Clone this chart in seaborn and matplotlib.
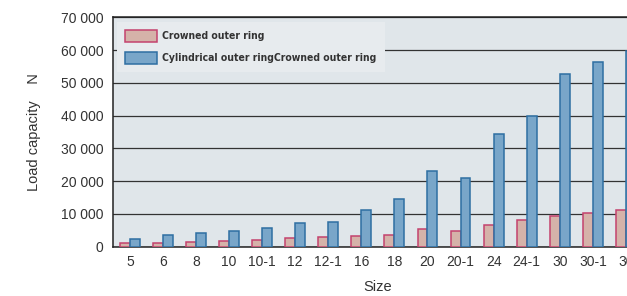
import numpy as np
import pandas as pd
import seaborn as sns
import matplotlib.pyplot as plt
from matplotlib.patches import Patch
from matplotlib.ticker import FuncFormatter, MultipleLocator

sizes = ['5', '6', '8', '10', '10-1', '12', '12-1', '16', '18', '20',
         '20-1', '24', '24-1', '30', '30-1', '30']
crowned = [1000, 1200, 1500, 1800, 2000, 2500, 2800, 3100, 3600, 5200,
           4700, 6600, 8000, 9300, 10100, 11000]
cylindrical = [2200, 3500, 4200, 4800, 5500, 7200, 7500, 11200, 14400, 23200,
               21000, 34400, 39900, 52700, 56200, 59600]
series = ['Crowned outer ring', 'Cylindrical outer ringCrowned outer ring']

df = pd.DataFrame({
    'idx': list(range(len(sizes))) * 2,
    'load': crowned + cylindrical,
    'type': [series[0]] * len(sizes) + [series[1]] * len(sizes),
})

fills = ['#d5b2a9', '#79a6c9']
edges = ['#c4426e', '#2e6fa2']

sns.set_style('white')
plt.rcParams['font.family'] = ['Liberation Sans', 'DejaVu Sans']

fig = plt.figure(figsize=(6.27, 2.96), dpi=100)
ax = fig.add_axes([0.1807, 0.1672, 0.8439, 0.7744])
ax.set_facecolor('#e0e6ea')

sns.barplot(data=df, x='idx', y='load', hue='type', palette=fills,
            width=0.6, saturation=1, linewidth=1.1, legend=False, ax=ax)
for cont, ec in zip(ax.containers, edges):
    for bar in cont:
        bar.set_edgecolor(ec)
        bar.set_zorder(3)

ax.set_xlim(-0.5, len(sizes) - 0.5)
ax.set_ylim(0, 70000)
ax.yaxis.set_major_locator(MultipleLocator(10000))
ax.yaxis.set_major_formatter(FuncFormatter(lambda v, p: f'{int(v):,}'.replace(',', ' ')))
ax.grid(axis='y', color='#333333', linewidth=0.9)
ax.set_axisbelow(True)

ax.set_xticks(range(len(sizes)))
ax.set_xticklabels(sizes)
ax.set_xticks(np.arange(0.5, len(sizes) - 0.5, 1), minor=True)
ax.tick_params(axis='x', which='major', length=0, pad=6, labelsize=10, labelcolor='#333333')
ax.tick_params(axis='x', which='minor', direction='in', length=6, width=1.5, color='#888888')
ax.tick_params(axis='y', length=0, pad=7, labelsize=10, labelcolor='#333333')

for side in ['left', 'bottom', 'top']:
    ax.spines[side].set_color('#222222')
    ax.spines[side].set_linewidth(1.1)
ax.spines['right'].set_visible(False)

ax.set_xlabel('Size', fontsize=10.5, color='#333333', labelpad=8)
ax.set_ylabel('Load capacity    N', fontsize=10.5, color='#333333', labelpad=14)

handles = [Patch(facecolor=f, edgecolor=e, linewidth=1.1) for f, e in zip(fills, edges)]
leg = ax.legend(handles, series, loc='upper left', bbox_to_anchor=(0.0064, 0.981),
                borderaxespad=0, frameon=True, fancybox=False, framealpha=1,
                facecolor='#e7ebee', edgecolor='none', handlelength=3.05,
                handleheight=1.4, handletextpad=0.5, labelspacing=0.95,
                borderpad=0.8,
                prop={'family': 'DejaVu Sans', 'stretch': 'condensed',
                      'weight': 'bold', 'size': 7.5})
for t in leg.get_texts():
    t.set_color('#333333')
leg.set_zorder(5)

plt.savefig('out.png', dpi=100)
